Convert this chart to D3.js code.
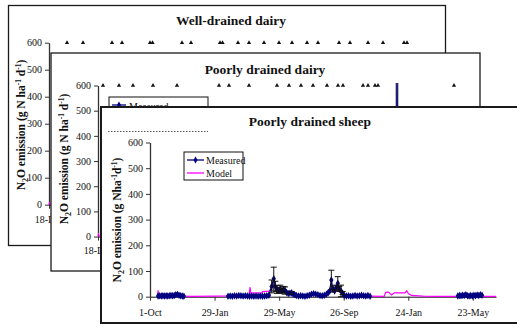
<!DOCTYPE html>
<html>
<head>
<meta charset="utf-8">
<script src="https://cdn.jsdelivr.net/npm/d3@7"></script>
<style>
  body { margin: 0; background: #fff; }
  svg { display: block; }
  text { font-family: "Liberation Serif", "Times New Roman", serif; fill: #111; }
</style>
</head>
<body>
<div id="chart"></div>
<script>
// ---------- data ----------
var yTicks = [0, 100, 200, 300, 400, 500, 600];
var startLabel = ["18-Dec"];

// well-drained dairy (days from 18-Dec): event markers drawn on the 600 line
var eventDaysWell = [36, 68, 126, 146, 202, 207, 266, 284, 342, 347, 378, 400, 430, 460, 486, 516, 538, 580, 602, 638, 668, 710, 716];
var modelWell = [[0, 0], [1, 10], [2, 2], [760, 2]];

// poorly drained dairy
var eventDaysPoor = [10, 42, 70, 110, 158, 242, 262, 302, 358, 382, 406, 430, 458, 480, 490, 530, 540, 554, 560, 712];
var measuredPoor = [[590, 2], [596, 4], [598, 660], [600, 4], [606, 2]];
var errPoor = [[598, 350, 350]];
var modelPoor = [[0, 0], [1, 14], [2, 2], [760, 2]];

// poorly drained sheep: [date, measured, sd]
var sheepTicks = ["2002-10-01", "2003-01-29", "2003-05-29", "2003-09-26", "2004-01-24", "2004-05-23"];
var measuredSheep = [
  ["2002-10-16", 3, 0], ["2002-10-19", 4, 0], ["2002-10-22", 3, 0], ["2002-10-25", 4, 0],
  ["2002-10-28", 3, 0], ["2002-10-31", 4, 0], ["2002-11-03", 3, 0], ["2002-11-06", 4, 0],
  ["2002-11-09", 5, 0], ["2002-11-12", 4, 0], ["2002-11-15", 5, 0], ["2002-11-18", 8, 0],
  ["2002-11-21", 9, 0], ["2002-11-24", 6, 0], ["2002-11-27", 4, 0], ["2002-11-30", 3, 0],
  ["2002-12-03", 2, 0],
  ["2002-12-20", null, 0],
  ["2003-02-23", 2, 0], ["2003-02-27", 3, 0], ["2003-03-03", 2, 0], ["2003-03-07", 4, 0],
  ["2003-03-11", 3, 0], ["2003-03-15", 5, 0], ["2003-03-19", 4, 0], ["2003-03-23", 3, 0],
  ["2003-03-27", 4, 0], ["2003-03-31", 3, 0], ["2003-04-04", 2, 0], ["2003-04-08", 3, 0],
  ["2003-04-12", 2, 0], ["2003-04-16", 3, 0], ["2003-04-20", 2, 0], ["2003-04-24", 3, 0],
  ["2003-04-28", 2, 0], ["2003-05-02", 3, 0], ["2003-05-06", 4, 0], ["2003-05-10", 6, 0],
  ["2003-05-15", 40, 25], ["2003-05-19", 70, 45], ["2003-05-22", 40, 20], ["2003-05-25", 28, 15],
  ["2003-05-28", 25, 10], ["2003-05-31", 30, 15], ["2003-06-03", 22, 8], ["2003-06-06", 28, 12],
  ["2003-06-09", 24, 14], ["2003-06-12", 16, 0], ["2003-06-15", 12, 0], ["2003-06-18", 14, 0],
  ["2003-06-21", 15, 5], ["2003-06-24", 10, 0], ["2003-06-27", 8, 0], ["2003-06-30", 5, 0],
  ["2003-07-04", 3, 0], ["2003-07-08", 4, 0], ["2003-07-12", 3, 0], ["2003-07-16", 2, 0],
  ["2003-07-20", 4, 0], ["2003-07-24", 6, 0], ["2003-07-28", 10, 0], ["2003-08-01", 12, 0],
  ["2003-08-05", 10, 0], ["2003-08-09", 8, 0], ["2003-08-13", 5, 0], ["2003-08-17", 4, 0],
  ["2003-08-21", 6, 0], ["2003-08-25", 10, 0], ["2003-08-28", 15, 0], ["2003-08-31", 22, 0],
  ["2003-09-03", 65, 38], ["2003-09-06", 30, 12], ["2003-09-09", 22, 0], ["2003-09-12", 35, 10],
  ["2003-09-15", 52, 26], ["2003-09-18", 30, 10], ["2003-09-21", 22, 23], ["2003-09-24", 14, 6],
  ["2003-09-27", 5, 0], ["2003-10-01", 3, 0], ["2003-10-05", 4, 0], ["2003-10-09", 2, 0],
  ["2003-10-13", 3, 0], ["2003-10-17", 5, 0], ["2003-10-21", 3, 0], ["2003-10-25", 4, 0],
  ["2003-10-29", 6, 0], ["2003-11-02", 4, 0], ["2003-11-06", 3, 0], ["2003-11-10", 5, 0],
  ["2003-11-14", 2, 0],
  ["2004-01-01", null, 0],
  ["2004-04-25", 3, 0], ["2004-04-28", 5, 0], ["2004-05-01", 4, 0], ["2004-05-04", 6, 0],
  ["2004-05-07", 5, 0], ["2004-05-10", 8, 0], ["2004-05-13", 4, 0], ["2004-05-16", 3, 0],
  ["2004-05-19", 5, 0], ["2004-05-22", 3, 0], ["2004-05-25", 6, 0], ["2004-05-28", 4, 0],
  ["2004-05-31", 7, 0], ["2004-06-03", 5, 0], ["2004-06-06", 8, 0], ["2004-06-09", 6, 0]
];
var modelSheep = [
  ["2002-10-15", 0], ["2002-10-16", 25], ["2002-10-17", 3], ["2002-11-20", 2], ["2002-12-20", 1],
  ["2003-02-01", 2], ["2003-02-20", 3], ["2003-03-05", 6], ["2003-03-20", 7], ["2003-04-03", 9],
  ["2003-04-05", 37], ["2003-04-06", 14], ["2003-04-20", 15], ["2003-04-27", 14], ["2003-04-28", 20],
  ["2003-05-10", 22], ["2003-05-14", 30], ["2003-05-18", 45], ["2003-05-22", 35], ["2003-05-28", 28],
  ["2003-06-05", 22], ["2003-06-25", 20], ["2003-06-30", 10], ["2003-07-06", 4], ["2003-07-25", 3],
  ["2003-08-05", 8], ["2003-08-12", 4], ["2003-08-28", 6], ["2003-09-01", 20], ["2003-09-10", 25],
  ["2003-09-20", 18], ["2003-09-28", 6], ["2003-10-15", 3], ["2003-12-10", 1], ["2003-12-13", 17],
  ["2003-12-18", 18], ["2003-12-24", 7], ["2003-12-29", 15], ["2004-01-18", 15], ["2004-01-21", 23],
  ["2004-01-24", 12], ["2004-01-30", 5], ["2004-02-20", 2], ["2004-03-15", 1], ["2004-07-05", 1]
];
var sheepEnd = "2004-07-05";

// ---------- drawing ----------
var svg = d3.select('#chart').append('svg').attr('width', 517).attr('height', 327);
var parse = d3.timeParse('%Y-%m-%d');
var navy = '#000080', pink = '#ff00ff';

function panel(x, y, w, h, sw) {
  var g = svg.append('g');
  g.append('rect').attr('x', x).attr('y', y).attr('width', w).attr('height', h)
    .attr('fill', '#fff').attr('stroke', '#1a1a1a').attr('stroke-width', sw);
  return g;
}

function title(g, txt, cx, by) {
  g.append('text').attr('x', cx).attr('y', by).attr('text-anchor', 'middle')
    .style('font-size', '13.5px').style('font-weight', 'bold').text(txt);
}

function yLabel(g, cx, cy, spaced) {
  var sp = spaced ? ' ' : '';
  var t = g.append('text')
    .attr('transform', 'translate(' + cx + ',' + cy + ') rotate(-90)')
    .attr('text-anchor', 'middle').attr('dy', '0.35em')
    .style('font-size', '11.5px').style('font-weight', 'bold');
  t.append('tspan').text('N');
  t.append('tspan').attr('dy', 3).style('font-size', '8px').text('2');
  t.append('tspan').attr('dy', -3).text('O emission (g N' + sp + 'ha');
  t.append('tspan').attr('dy', -4).style('font-size', '7.5px').text('-1');
  t.append('tspan').attr('dy', 4).text(sp + 'd');
  t.append('tspan').attr('dy', -4).style('font-size', '7.5px').text('-1');
  t.append('tspan').attr('dy', 4).text(')');
}

function styleAxis(a) {
  a.selectAll('text').style('font-size', '10px').style('font-family', '"Liberation Serif", serif').style('fill', '#111');
  a.selectAll('line, path').style('stroke', '#333');
}

function yAxis(g, y, x0) {
  var a = g.append('g').attr('transform', 'translate(' + x0 + ',0)')
    .call(d3.axisLeft(y).tickValues(yTicks).tickSize(4).tickSizeOuter(0).tickPadding(3));
  styleAxis(a);
  a.select('.domain').style('stroke-width', 1.3);
}

function triangles(g, x, y, days) {
  g.selectAll(null).data(days).enter().append('path')
    .attr('d', d3.symbol().type(d3.symbolTriangle).size(8))
    .attr('transform', function(d) { return 'translate(' + x(d) + ',' + y(600) + ')'; })
    .attr('fill', '#111');
}

// ----- panel 1 : well-drained dairy -----
var p1 = panel(8.5, 5.5, 437, 240, 1.3);
var x1 = d3.scaleLinear().domain([0, 780]).range([49, 439]);
var y1 = d3.scaleLinear().domain([0, 600]).range([204.7, 42.7]);
title(p1, 'Well-drained dairy', 231, 25);
yAxis(p1, y1, 49);
var ax1 = p1.append('g').attr('transform', 'translate(0,' + y1(0) + ')')
  .call(d3.axisBottom(x1).tickValues([0]).tickFormat(function(d, i) { return startLabel[i]; }).tickSize(4).tickSizeOuter(0).tickPadding(7));
styleAxis(ax1);
p1.append('path').datum(modelWell)
  .attr('d', d3.line().x(function(d) { return x1(d[0]); }).y(function(d) { return y1(d[1]); }))
  .attr('fill', 'none').attr('stroke', pink).attr('stroke-width', 1);
triangles(p1, x1, y1, eventDaysWell);
yLabel(p1, 21, 125, true);

// ----- panel 2 : poorly drained dairy -----
var p2 = panel(51, 53, 429, 218, 1.3);
var x2 = d3.scaleLinear().domain([0, 760]).range([98, 478]);
var y2 = d3.scaleLinear().domain([0, 600]).range([236.6, 85.5]);
svg.append('clipPath').attr('id', 'clip2').append('rect')
  .attr('x', 96).attr('y', 83).attr('width', 384).attr('height', 188);
title(p2, 'Poorly drained dairy', 265, 74);
yAxis(p2, y2, 98);
var ax2 = p2.append('g').attr('transform', 'translate(0,' + y2(0) + ')')
  .call(d3.axisBottom(x2).tickValues([0]).tickFormat(function(d, i) { return startLabel[i]; }).tickSize(4).tickSizeOuter(0).tickPadding(6));
styleAxis(ax2);
var plot2 = p2.append('g').attr('clip-path', 'url(#clip2)');
plot2.selectAll(null).data(errPoor).enter().append('line')
  .attr('x1', function(d) { return x2(d[0]); }).attr('x2', function(d) { return x2(d[0]); })
  .attr('y1', function(d) { return y2(d[1] - d[2]); }).attr('y2', function(d) { return y2(d[1] + d[2]); })
  .attr('stroke', '#777').attr('stroke-width', 3);
plot2.append('path').datum(modelPoor)
  .attr('d', d3.line().x(function(d) { return x2(d[0]); }).y(function(d) { return y2(d[1]); }))
  .attr('fill', 'none').attr('stroke', pink).attr('stroke-width', 1);
plot2.append('path').datum(measuredPoor)
  .attr('d', d3.line().x(function(d) { return x2(d[0]); }).y(function(d) { return y2(d[1]); }))
  .attr('fill', 'none').attr('stroke', navy).attr('stroke-width', 1.2);
triangles(p2, x2, y2, eventDaysPoor);
// legend (mostly hidden beneath the sheep panel)
p2.append('rect').attr('x', 109).attr('y', 97).attr('width', 99).attr('height', 34)
  .attr('fill', '#fff').attr('stroke', '#111').attr('stroke-width', 1);
p2.append('line').attr('x1', 112).attr('x2', 126).attr('y1', 105).attr('y2', 105).attr('stroke', navy).attr('stroke-width', 1.3);
p2.append('path').attr('d', d3.symbol().type(d3.symbolDiamond).size(14)).attr('transform', 'translate(119,105)').attr('fill', navy);
p2.append('text').attr('x', 129).attr('y', 110).style('font-size', '10px').text('Measured');
yLabel(p2, 64, 159, true);

// ----- panel 3 : poorly drained sheep -----
var p3 = panel(101, 107, 440, 216, 2);
var x3 = d3.scaleTime().domain([parse(sheepTicks[0]), parse(sheepEnd)]).range([150, 496]);
var y3 = d3.scaleLinear().domain([0, 600]).range([296.7, 142.5]);
title(p3, 'Poorly drained sheep', 310, 126);
yAxis(p3, y3, 150);
var ax3 = p3.append('g').attr('transform', 'translate(0,' + y3(0) + ')')
  .call(d3.axisBottom(x3).tickValues(sheepTicks.map(parse)).tickFormat(d3.timeFormat('%-d-%b'))
    .tickSize(4).tickSizeOuter(0).tickPadding(8));
styleAxis(ax3);
ax3.select('.domain').style('stroke', '#111');

// model line
p3.append('path').datum(modelSheep)
  .attr('d', d3.line().x(function(d) { return x3(parse(d[0])); }).y(function(d) { return y3(d[1]); }))
  .attr('fill', 'none').attr('stroke', pink).attr('stroke-width', 1.2);

// measured line + markers
p3.append('path').datum(measuredSheep)
  .attr('d', d3.line().defined(function(d) { return d[1] != null; })
    .x(function(d) { return x3(parse(d[0])); }).y(function(d) { return y3(d[1]); }))
  .attr('fill', 'none').attr('stroke', navy).attr('stroke-width', 1.3);
var pts = measuredSheep.filter(function(d) { return d[1] != null; });
p3.selectAll(null).data(pts).enter().append('path')
  .attr('d', d3.symbol().type(d3.symbolDiamond).size(16))
  .attr('transform', function(d) { return 'translate(' + x3(parse(d[0])) + ',' + y3(d[1]) + ')'; })
  .attr('fill', navy);

// error bars
var eb = pts.filter(function(d) { return d[2] > 0; });
var ebG = p3.selectAll(null).data(eb).enter().append('g').attr('stroke', '#111').attr('stroke-width', 1);
ebG.append('line')
  .attr('x1', function(d) { return x3(parse(d[0])); }).attr('x2', function(d) { return x3(parse(d[0])); })
  .attr('y1', function(d) { return y3(d[1] - d[2]); }).attr('y2', function(d) { return y3(d[1] + d[2]); });
ebG.append('line')
  .attr('x1', function(d) { return x3(parse(d[0])) - 3; }).attr('x2', function(d) { return x3(parse(d[0])) + 3; })
  .attr('y1', function(d) { return y3(d[1] + d[2]); }).attr('y2', function(d) { return y3(d[1] + d[2]); });
ebG.append('line')
  .attr('x1', function(d) { return x3(parse(d[0])) - 3; }).attr('x2', function(d) { return x3(parse(d[0])) + 3; })
  .attr('y1', function(d) { return y3(Math.max(0, d[1] - d[2])); }).attr('y2', function(d) { return y3(Math.max(0, d[1] - d[2])); });

// legend
var lg = p3.append('g');
lg.append('rect').attr('x', 184).attr('y', 152).attr('width', 59).attr('height', 28)
  .attr('fill', '#fff').attr('stroke', '#111').attr('stroke-width', 1);
lg.append('line').attr('x1', 187).attr('x2', 204).attr('y1', 160).attr('y2', 160).attr('stroke', navy).attr('stroke-width', 1.3);
lg.append('path').attr('d', d3.symbol().type(d3.symbolDiamond).size(14)).attr('transform', 'translate(195.5,160)').attr('fill', navy);
lg.append('text').attr('x', 206).attr('y', 163.5).style('font-size', '10px').text('Measured');
lg.append('line').attr('x1', 187).attr('x2', 204).attr('y1', 173).attr('y2', 173).attr('stroke', pink).attr('stroke-width', 1.3);
lg.append('text').attr('x', 206).attr('y', 176.5).style('font-size', '10px').text('Model');
yLabel(p3, 117, 220, false);

// faint dotted edge of the hidden legend showing through
svg.append('line').attr('x1', 108).attr('x2', 208).attr('y1', 131.5).attr('y2', 131.5)
  .attr('stroke', '#555').attr('stroke-width', 1).attr('stroke-dasharray', '1.5,1.5');
</script>
</body>
</html>
